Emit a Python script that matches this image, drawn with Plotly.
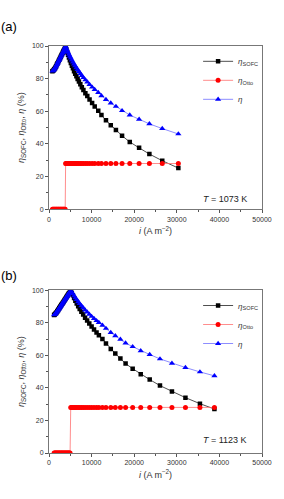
import plotly.graph_objects as go

# ---------------- Panel (a): T = 1073 K ----------------
i_a = [800, 950, 1100, 1250, 1400, 1550, 1700, 1850, 2000, 2150, 2300, 2450, 2600, 2750,
       2900, 3050, 3200, 3350, 3500, 3650, 3800,
       3900, 4080, 4270, 4470, 4680, 4900, 5130, 5370, 5620, 5880, 6150, 6430, 6720, 7030,
       7360, 7710, 8080, 8540, 8990, 9520, 10120, 10730, 11560, 12310, 13370, 14500, 15710,
       17150, 18960, 21150, 23566, 26586, 30363]
sofc_a = [84.6, 84.9, 85.3, 85.8, 86.4, 87.1, 87.8, 88.6, 89.4, 90.2, 91.0, 91.8, 92.6, 93.4,
          94.2, 95.0, 95.8, 96.6, 97.4, 98.2, 99.0,
          99.8, 97.9, 96.2, 94.6, 92.9, 91.2, 89.6, 87.9, 86.3, 84.6, 83.0, 81.4, 79.8, 78.2,
          76.5, 74.8, 73.1, 71.1, 69.3, 67.2, 65.0, 62.9, 60.4, 57.7, 54.5, 51.4, 48.6,
          45.0, 41.2, 37.6, 33.8, 29.7, 25.2]
otto_a = [0.0, 0.0, 0.0, 0.0, 0.0, 0.0, 0.0, 0.0, 0.0, 0.0, 0.0, 0.0, 0.0, 0.0,
          0.0, 0.0, 0.0, 0.0, 0.0, 0.0, 0.0,
          28.0, 28.0, 28.0, 28.0, 28.0, 28.0, 28.0, 28.0, 28.0, 28.0, 28.0, 28.0, 28.0, 28.0,
          28.0, 28.0, 28.0, 28.0, 28.0, 28.0, 28.0, 28.0, 28.0, 28.0, 28.0, 28.0, 28.0,
          28.0, 28.0, 28.0, 28.0, 28.0, 28.0]
eta_a = [84.6, 84.9, 85.3, 85.8, 86.4, 87.1, 87.8, 88.6, 89.4, 90.2, 91.0, 91.8, 92.6, 93.4,
         94.2, 95.0, 95.8, 96.6, 97.4, 98.2, 99.0,
         99.9, 98.5, 97.3, 96.1, 94.9, 93.7, 92.5, 91.3, 90.1, 88.9, 87.8, 86.6, 85.5, 84.3,
         83.1, 81.9, 80.6, 79.2, 77.9, 76.4, 74.8, 73.3, 71.5, 69.5, 67.2, 65.0, 63.0,
         60.4, 57.7, 55.1, 52.3, 49.4, 46.1]

# ---------------- Panel (b): T = 1123 K ----------------
i_b = [1200, 1350, 1500, 1650, 1800, 1950, 2100, 2250, 2400, 2550, 2700, 2850, 3000, 3150,
       3300, 3450, 3600, 3750, 3900, 4050, 4200, 4350, 4500, 4650, 4800, 4950,
       5100, 5350, 5610, 5890, 6190, 6510, 6850, 7210, 7600, 8020, 8470, 8950, 9460, 10000,
       10570, 11160, 11710, 12540, 13370, 14500, 15560, 16760, 17980, 19640, 21530, 23640,
       26050, 28860, 32030, 35430, 38830]
sofc_b = [84.8, 85.1, 85.5, 86.0, 86.5, 87.1, 87.7, 88.3, 88.9, 89.5, 90.1, 90.7, 91.3, 91.9,
          92.5, 93.1, 93.7, 94.3, 94.9, 95.5, 96.1, 96.7, 97.3, 97.9, 98.5, 99.1,
          99.8, 98.4, 96.9, 95.2, 93.5, 91.9, 90.2, 88.5, 86.7, 85.0, 83.1, 81.4, 79.5, 77.7,
          75.8, 74.0, 72.4, 70.0, 67.3, 63.9, 61.1, 58.0, 54.9, 51.8, 48.4, 45.1,
          41.4, 37.7, 34.0, 30.3, 27.0]
otto_b = [0.0, 0.0, 0.0, 0.0, 0.0, 0.0, 0.0, 0.0, 0.0, 0.0, 0.0, 0.0, 0.0, 0.0,
          0.0, 0.0, 0.0, 0.0, 0.0, 0.0, 0.0, 0.0, 0.0, 0.0, 0.0, 0.0,
          28.0, 28.0, 28.0, 28.0, 28.0, 28.0, 28.0, 28.0, 28.0, 28.0, 28.0, 28.0, 28.0, 28.0,
          28.0, 28.0, 28.0, 28.0, 28.0, 28.0, 28.0, 28.0, 28.0, 28.0, 28.0, 28.0,
          28.0, 28.0, 28.0, 28.0, 28.0]
eta_b = [84.8, 85.1, 85.5, 86.0, 86.5, 87.1, 87.7, 88.3, 88.9, 89.5, 90.1, 90.7, 91.3, 91.9,
         92.5, 93.1, 93.7, 94.3, 94.9, 95.5, 96.1, 96.7, 97.3, 97.9, 98.5, 99.1,
         99.9, 98.8, 97.8, 96.5, 95.3, 94.2, 92.9, 91.7, 90.4, 89.2, 87.8, 86.6, 85.2, 83.9,
         82.6, 81.3, 80.1, 78.4, 76.5, 74.0, 72.0, 69.8, 67.5, 65.3, 62.8, 60.5,
         57.8, 55.1, 52.5, 49.8, 47.4]

panel_labels = ["(a)", "(b)"]
temp_labels = ["<i>T</i> = 1073 K", "<i>T</i> = 1123 K"]
x_ticks = [0, 10000, 20000, 30000, 40000, 50000]
x_ticktext = ["0", "10000", "20000", "30000", "40000", "50000"]
y_ticks = [0, 20, 40, 60, 80, 100]
y_ticktext = ["0", "20", "40", "60", "80", "100"]
names = ["<i>η</i><sub>SOFC</sub>", "<i>η</i><sub>Otto</sub>", "<i>η</i>"]

FONT = "Arial, Liberation Sans, sans-serif"
fig = go.Figure()

panels = [(i_a, sofc_a, otto_a, eta_a, "x", "y", "legend"),
          (i_b, sofc_b, otto_b, eta_b, "x2", "y2", "legend2")]
for (xs, s, o, e, xa, ya, lg) in panels:
    fig.add_trace(go.Scatter(x=xs, y=s, mode="lines+markers", name=names[0],
                             xaxis=xa, yaxis=ya, legend=lg,
                             line=dict(color="#222222", width=0.8),
                             marker=dict(symbol="square", size=4.5, color="#000000")))
    fig.add_trace(go.Scatter(x=xs, y=o, mode="lines+markers", name=names[1],
                             xaxis=xa, yaxis=ya, legend=lg,
                             line=dict(color="#ff7070", width=0.8),
                             marker=dict(symbol="circle", size=5, color="#ff0000")))
    fig.add_trace(go.Scatter(x=xs, y=e, mode="lines+markers", name=names[2],
                             xaxis=xa, yaxis=ya, legend=lg,
                             line=dict(color="#7070ff", width=0.8),
                             marker=dict(symbol="triangle-up", size=5.5, color="#0000ff")))

ax_common = dict(showline=True, linecolor="#777777", linewidth=1, mirror=True,
                 ticks="outside", ticklen=3, tickcolor="#555555",
                 tickfont=dict(size=7, color="#333333", family=FONT),
                 showgrid=False, zeroline=False)
xa_common = dict(ax_common, range=[0, 50000], tickmode="array", tickvals=x_ticks, ticktext=x_ticktext,
                 minor=dict(dtick=5000, ticks="outside", ticklen=2, tickcolor="#555555"))
ya_common = dict(ax_common, range=[0, 100], tickmode="array", tickvals=y_ticks, ticktext=y_ticktext,
                 minor=dict(dtick=10, ticks="outside", ticklen=2, tickcolor="#555555"))
xtitle = dict(text="<i>i</i> (A m<sup>−2</sup>)", font=dict(size=9, color="#333333", family=FONT), standoff=6)
ytitle = dict(text="<i>η</i><sub>SOFC</sub>, <i>η</i><sub>Otto</sub>, <i>η</i> (%)",
              font=dict(size=9, color="#333333", family=FONT), standoff=5)

legend_common = dict(bgcolor="rgba(0,0,0,0)", borderwidth=0,
                     font=dict(size=8, color="#333333", family=FONT),
                     xanchor="left", yanchor="top", itemwidth=30, tracegroupgap=0)

fig.update_layout(
    width=284, height=499,
    margin=dict(l=49, r=14, t=46, b=46),
    paper_bgcolor="white", plot_bgcolor="white",
    font=dict(family=FONT),
    xaxis=dict(xa_common, domain=[0, 1], anchor="y", title=xtitle),
    yaxis=dict(ya_common, domain=[0.599, 1], anchor="x", title=ytitle),
    xaxis2=dict(xa_common, domain=[0, 1], anchor="y2", title=xtitle),
    yaxis2=dict(ya_common, domain=[0, 0.4], anchor="x2", title=ytitle),
    legend=dict(legend_common, x=0.70, y=0.998),
    legend2=dict(legend_common, x=0.70, y=0.398),
    showlegend=True,
)

annotations = [
    dict(text=panel_labels[0], xref="paper", yref="paper", x=-0.235, y=1.047,
         xanchor="left", yanchor="middle", showarrow=False, font=dict(size=13, color="#000", family=FONT)),
    dict(text=panel_labels[1], xref="paper", yref="paper", x=-0.235, y=0.437,
         xanchor="left", yanchor="middle", showarrow=False, font=dict(size=13, color="#000", family=FONT)),
    dict(text=temp_labels[0], xref="x", yref="y", x=47000, y=6.5,
         xanchor="right", yanchor="middle", showarrow=False, font=dict(size=9, color="#222", family=FONT)),
    dict(text=temp_labels[1], xref="x2", yref="y2", x=47000, y=8,
         xanchor="right", yanchor="middle", showarrow=False, font=dict(size=9, color="#222", family=FONT)),
]
fig.update_layout(annotations=annotations)

fig.write_html("out.html")
